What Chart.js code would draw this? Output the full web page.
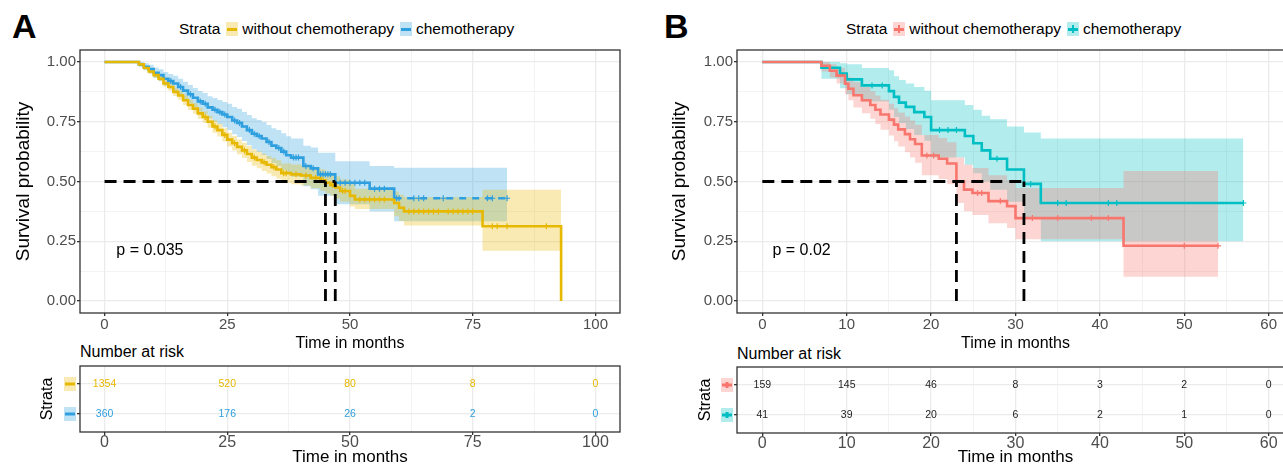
<!DOCTYPE html>
<html>
<head>
<meta charset="utf-8">
<script src="https://cdn.jsdelivr.net/npm/chart.js@4.4.1/dist/chart.umd.min.js"></script>
<style>
html, body { margin: 0; padding: 0; background: #fff; width: 1283px; height: 466px; overflow: hidden; }
body { position: relative; font-family: 'Liberation Sans', Arial, sans-serif; color: #000; }
canvas { position: absolute; display: block; }
.tag { position: absolute; font-weight: bold; font-size: 34px; line-height: 34px; }
.legend { position: absolute; top: 19px; height: 20px; display: flex; align-items: center; font-size: 15.5px; white-space: nowrap; }
.key { display: inline-block; position: relative; width: 12px; height: 14px; margin: 0 4px 0 6px; }
.key i { position: absolute; left: 1px; right: 1px; top: 5.5px; height: 3px; }
.key b { position: absolute; left: 5px; width: 2px; top: 3px; height: 8px; }
.risk-title { position: absolute; font-size: 16px; line-height: 18px; }
</style>
</head>
<body>
<div class="tag" style="left:12px; top:9px;">A</div>
<div class="tag" style="left:664px; top:9px;">B</div>

<div class="legend" style="left:179px;">Strata
  <span class="key" style="background:rgba(231,184,0,0.3)"><i style="background:#E7B800"></i></span>without chemotherapy
  <span class="key" style="background:rgba(46,159,223,0.3)"><i style="background:#2E9FDF"></i></span>chemotherapy
</div>
<div class="legend" style="left:846px;">Strata
  <span class="key" style="background:rgba(248,118,109,0.3)"><i style="background:#F8766D"></i><b style="background:#F8766D"></b></span>without chemotherapy
  <span class="key" style="background:rgba(0,191,196,0.3)"><i style="background:#00BFC4"></i><b style="background:#00BFC4"></b></span>chemotherapy
</div>

<div class="risk-title" style="left:80px; top:343px;">Number at risk</div>
<div class="risk-title" style="left:737px; top:345px;">Number at risk</div>

<canvas id="mainA" width="640" height="320" style="left:0; top:40px;"></canvas>
<canvas id="riskA" width="640" height="106" style="left:0; top:360px;"></canvas>
<canvas id="mainB" width="660" height="320" style="left:640px; top:40px;"></canvas>
<canvas id="riskB" width="660" height="106" style="left:640px; top:360px;"></canvas>

<script>
Chart.defaults.font.family = "'Liberation Sans', Arial, sans-serif";
Chart.defaults.animation = false;

// ---- panel A : without chemotherapy (yellow) vs chemotherapy (blue) ----
const tA0 = [0, 7, 8, 9, 10, 11, 12, 13, 14, 15, 16, 17, 18, 19, 20, 21, 22, 23, 24, 25, 26, 27, 28, 29, 30, 31, 32, 33, 34, 35, 36, 38, 40, 42, 44, 45, 46, 47, 48, 50, 51, 59, 60, 61, 77, 93];
const sA0 = [1, 0.99, 0.975, 0.96, 0.945, 0.93, 0.91, 0.895, 0.875, 0.86, 0.84, 0.82, 0.805, 0.785, 0.77, 0.75, 0.73, 0.715, 0.695, 0.675, 0.66, 0.645, 0.63, 0.615, 0.6, 0.59, 0.58, 0.57, 0.56, 0.55, 0.535, 0.53, 0.525, 0.515, 0.505, 0.495, 0.485, 0.475, 0.46, 0.44, 0.425, 0.41, 0.39, 0.375, 0.313, 0];
const loA0 = [1, 0.985, 0.968, 0.951, 0.934, 0.918, 0.896, 0.88, 0.858, 0.842, 0.82, 0.799, 0.783, 0.762, 0.746, 0.725, 0.704, 0.688, 0.667, 0.646, 0.63, 0.614, 0.598, 0.582, 0.566, 0.555, 0.544, 0.533, 0.522, 0.511, 0.495, 0.489, 0.483, 0.472, 0.46, 0.45, 0.44, 0.428, 0.415, 0.395, 0.385, 0.355, 0.335, 0.316, 0.21, 0.21];
const hiA0 = [1, 0.995, 0.982, 0.969, 0.956, 0.942, 0.924, 0.91, 0.892, 0.878, 0.86, 0.841, 0.827, 0.808, 0.794, 0.775, 0.756, 0.742, 0.723, 0.704, 0.69, 0.676, 0.662, 0.648, 0.634, 0.625, 0.616, 0.607, 0.598, 0.589, 0.575, 0.571, 0.567, 0.558, 0.55, 0.54, 0.53, 0.522, 0.508, 0.49, 0.47, 0.458, 0.445, 0.435, 0.465, 0.465];
const cA0 = [20.5, 22.5, 24.5, 26.5, 28.5, 30.5, 32.5, 34.5, 36.5, 37, 39, 41, 43, 44.5, 46.5, 48.5, 49, 52, 53, 54, 55, 56, 57, 62, 63, 64, 65, 66, 67, 68, 70, 71, 72, 73, 74, 75, 79, 80, 82, 90];

const tA1 = [0, 7, 8, 9, 10, 11, 12, 13, 14, 15, 16, 17, 18, 19, 20, 21, 22, 23, 24, 25, 26, 27, 28, 29, 30, 31, 32, 33, 34, 35, 36, 37, 38, 40.5, 42, 43.5, 47, 54, 59, 82];
const sA1 = [1, 0.99, 0.98, 0.97, 0.955, 0.945, 0.93, 0.92, 0.91, 0.895, 0.88, 0.865, 0.85, 0.835, 0.825, 0.81, 0.8, 0.79, 0.78, 0.77, 0.755, 0.745, 0.73, 0.715, 0.7, 0.69, 0.68, 0.665, 0.65, 0.64, 0.625, 0.61, 0.6, 0.565, 0.555, 0.53, 0.495, 0.47, 0.43, 0.43];
const loA1 = [1, 0.98, 0.965, 0.952, 0.933, 0.92, 0.902, 0.89, 0.878, 0.86, 0.843, 0.826, 0.809, 0.792, 0.78, 0.763, 0.751, 0.739, 0.727, 0.715, 0.698, 0.686, 0.669, 0.652, 0.635, 0.623, 0.611, 0.594, 0.577, 0.565, 0.548, 0.531, 0.52, 0.48, 0.468, 0.44, 0.405, 0.375, 0.334, 0.334];
const hiA1 = [1, 1, 0.995, 0.988, 0.977, 0.97, 0.958, 0.95, 0.942, 0.93, 0.917, 0.904, 0.891, 0.878, 0.87, 0.857, 0.849, 0.841, 0.833, 0.825, 0.812, 0.804, 0.791, 0.778, 0.765, 0.757, 0.749, 0.736, 0.723, 0.715, 0.702, 0.689, 0.68, 0.65, 0.642, 0.62, 0.585, 0.565, 0.558, 0.558];
const cA1 = [13.5, 15.5, 17.5, 19.5, 20.5, 22.5, 23.5, 24.5, 26.5, 27.5, 29.5, 30.5, 31.5, 33.5, 35.5, 36.5, 38.5, 39, 39.5, 41, 42.5, 44, 44.5, 45, 45.5, 46, 48, 49, 50, 51, 52, 53, 55, 56, 57, 59.5, 60, 63, 64, 65, 69, 78, 79, 82];

const medA = [45, 47];
const pvalA = 'p = 0.035';
const riskTimesA = [0, 25, 50, 75, 100];
const riskA0 = [1354, 520, 80, 8, 0];
const riskA1 = [360, 176, 26, 2, 0];
const xMajorA = [0, 25, 50, 75, 100];
const xMinorA = [12.5, 37.5, 62.5, 87.5];

// ---- panel B : without chemotherapy (red) vs chemotherapy (teal) ----
const tB0 = [0, 7, 8, 8.8, 9.8, 10.2, 10.8, 11.8, 12.8, 13.4, 14, 15, 15.6, 16.1, 16.9, 17.5, 18.1, 18.9, 20.9, 21.9, 23, 23.9, 24.9, 26.8, 29, 30, 42.8, 54];
const sB0 = [1, 0.984, 0.963, 0.943, 0.909, 0.888, 0.861, 0.84, 0.82, 0.8, 0.78, 0.759, 0.738, 0.718, 0.698, 0.677, 0.657, 0.609, 0.595, 0.575, 0.5, 0.466, 0.452, 0.418, 0.397, 0.347, 0.231, 0.231];
const loB0 = [1, 0.96, 0.935, 0.91, 0.865, 0.84, 0.81, 0.785, 0.762, 0.74, 0.716, 0.692, 0.668, 0.646, 0.622, 0.6, 0.578, 0.526, 0.51, 0.488, 0.41, 0.376, 0.36, 0.325, 0.305, 0.258, 0.102, 0.102];
const hiB0 = [1, 1, 0.99, 0.975, 0.95, 0.935, 0.915, 0.895, 0.877, 0.86, 0.842, 0.825, 0.806, 0.789, 0.772, 0.755, 0.737, 0.694, 0.682, 0.664, 0.6, 0.57, 0.556, 0.526, 0.505, 0.473, 0.544, 0.544];
const cB0 = [19.5, 20.3, 25.5, 26, 28.2, 31, 32, 35, 39, 41, 50, 54];

const tB1 = [0, 7, 9.2, 10, 11.8, 15, 15.6, 16.2, 17, 18, 19.2, 20, 24, 25, 26, 27, 29, 31, 33, 57];
const sB1 = [1, 0.976, 0.951, 0.927, 0.902, 0.878, 0.854, 0.83, 0.812, 0.79, 0.77, 0.715, 0.69, 0.66, 0.63, 0.595, 0.55, 0.49, 0.41, 0.41];
const loB1 = [1, 0.93, 0.89, 0.865, 0.835, 0.8, 0.77, 0.745, 0.72, 0.695, 0.67, 0.6, 0.57, 0.535, 0.5, 0.465, 0.415, 0.35, 0.25, 0.25];
const hiB1 = [1, 1, 0.995, 0.99, 0.975, 0.965, 0.94, 0.925, 0.91, 0.895, 0.88, 0.84, 0.82, 0.8, 0.775, 0.76, 0.73, 0.705, 0.68, 0.68];
const cB1 = [13, 14.2, 21, 22, 23, 27.8, 31.8, 35, 36, 41, 42, 57];

const medB = [23, 31];
const pvalB = 'p = 0.02';
const riskTimesB = [0, 10, 20, 30, 40, 50, 60];
const riskB0 = [159, 145, 46, 8, 3, 2, 0];
const riskB1 = [41, 39, 20, 6, 2, 1, 0];
const xMajorB = [0, 10, 20, 30, 40, 50, 60];
const xMinorB = [5, 15, 25, 35, 45, 55];

const yMajor = [0, 0.25, 0.5, 0.75, 1];
const yMinor = [0.125, 0.375, 0.625, 0.875];

// ---- helpers ----
function stepData(t, v) {
    return t.map((x, i) => ({x: x, y: v[i]}));
}

function survAt(t, s, when) {
    let v = s[0];
    for (let i = 0; i < t.length; i++) {
        if (t[i] <= when) v = s[i];
    }
    return v;
}

function curveSets(c) {
    const none = 'rgba(0,0,0,0)';
    return [
        { data: stepData(c.t, c.hi), stepped: 'before', borderWidth: 0, borderColor: none, pointRadius: 0, fill: false, order: 5 },
        { data: stepData(c.t, c.lo), stepped: 'before', borderWidth: 0, borderColor: none, pointRadius: 0, fill: '-1', backgroundColor: c.band, order: 5 },
        { data: stepData(c.t, c.s), stepped: 'before', borderColor: c.color, borderWidth: 2.6, pointRadius: 0, fill: false, order: 3,
          segment: c.dashFrom != null ? { borderDash: ctx => ctx.p0.parsed.x >= c.dashFrom ? [7, 6] : undefined } : undefined },
        { data: c.cens.map(x => ({x: x, y: survAt(c.t, c.s, x)})), showLine: false, pointStyle: 'cross',
          pointRadius: 3, pointBorderColor: c.color, pointBorderWidth: 1.2, order: 2 }
    ];
}

function medianSets(meds) {
    const style = { borderColor: '#000', borderWidth: 2.8, borderDash: [12, 7], pointRadius: 0, fill: false, order: 1 };
    const sets = [Object.assign({ data: [{x: 0, y: 0.5}, {x: Math.max(...meds), y: 0.5}] }, style)];
    meds.forEach(m => sets.push(Object.assign({ data: [{x: m, y: 0}, {x: m, y: 0.5}] }, style)));
    return sets;
}

function axis(o) {
    const majors = o.majors;
    const all = o.majors.concat(o.minors || []).sort((a, b) => a - b);
    return {
        type: 'linear', min: o.min, max: o.max, reverse: !!o.reverse,
        afterBuildTicks: s => { s.ticks = all.map(v => ({value: v})); },
        afterFit: s => {
            if (o.width != null) s.width = o.width;
            if (o.height != null) s.height = o.height;
        },
        border: { display: false },
        grid: {
            color: '#EBEBEB',
            lineWidth: c => majors.includes(c.tick.value) ? 1.3 : 0.6,
            tickColor: c => majors.includes(c.tick.value) ? '#333' : 'rgba(0,0,0,0)',
            tickLength: 3,
            tickWidth: 1.3
        },
        ticks: {
            autoSkip: false, maxRotation: 0, minRotation: 0, padding: o.pad || 0,
            color: '#4D4D4D', font: { size: o.tickSize },
            callback: v => majors.includes(v) ? (o.fmt ? o.fmt(v) : String(v)) : ''
        },
        title: { display: true, text: o.title, color: '#000', font: { size: o.titleSize }, padding: o.titlePad }
    };
}

const framePlugin = {
    id: 'frame',
    afterDraw(chart) {
        const {ctx, chartArea: a} = chart;
        ctx.save();
        ctx.strokeStyle = '#333';
        ctx.lineWidth = 1.3;
        ctx.strokeRect(a.left, a.top, a.right - a.left, a.bottom - a.top);
        ctx.restore();
    }
};

const pvalPlugin = {
    id: 'pval',
    afterDatasetsDraw(chart, args, opts) {
        const {ctx, scales} = chart;
        ctx.save();
        ctx.fillStyle = '#000';
        ctx.font = "16px 'Liberation Sans', Arial, sans-serif";
        ctx.textAlign = 'left';
        ctx.textBaseline = 'middle';
        ctx.fillText(opts.text, scales.x.getPixelForValue(opts.x), scales.y.getPixelForValue(opts.y));
        ctx.restore();
    }
};

function survChart(id, cfg) {
    new Chart(document.getElementById(id), {
        type: 'line',
        data: {
            datasets: [].concat(
                curveSets(cfg.curves[0]),
                curveSets(cfg.curves[1]),
                medianSets(cfg.medians)
            )
        },
        options: {
            responsive: false,
            devicePixelRatio: 1,
            events: [],
            layout: { padding: { top: 6, right: cfg.padRight, left: 0, bottom: 0 } },
            plugins: { legend: { display: false }, tooltip: { enabled: false },
                       pval: { text: cfg.pval, x: cfg.pvalX, y: 0.21 } },
            scales: {
                x: axis({ min: cfg.xMin, max: cfg.xMax, majors: cfg.xMajor, minors: cfg.xMinor, height: 47,
                          tickSize: 15, title: 'Time in months', titleSize: 16, titlePad: { top: 0, bottom: 7 } }),
                y: axis({ min: -0.05, max: 1.05, majors: yMajor, minors: yMinor, width: cfg.yWidth, pad: 1,
                          tickSize: 15, fmt: v => v.toFixed(2), title: 'Survival probability', titleSize: 19,
                          titlePad: { top: cfg.yTitlePad, bottom: 0 } })
            }
        },
        plugins: [framePlugin, pvalPlugin]
    });
}

const riskPlugin = {
    id: 'risk',
    afterDatasetsDraw(chart) {
        const {ctx, chartArea: a} = chart;
        ctx.save();
        chart.data.datasets.forEach((ds, di) => {
            const meta = chart.getDatasetMeta(di);
            ctx.fillStyle = ds.textColor;
            ctx.font = "10.5px 'Liberation Sans', Arial, sans-serif";
            ctx.textAlign = 'center';
            ctx.textBaseline = 'middle';
            meta.data.forEach((pt, i) => ctx.fillText(String(ds.counts[i]), pt.x, pt.y));
            // strata key on the y axis
            const y = chart.scales.y.getPixelForValue(ds.data[0].y);
            const kx = a.left - 16;
            ctx.fillStyle = ds.band;
            ctx.fillRect(kx, y - 7, 12, 14);
            ctx.strokeStyle = ds.color;
            ctx.lineWidth = 3;
            ctx.beginPath();
            ctx.moveTo(kx + 1, y);
            ctx.lineTo(kx + 11, y);
            if (ds.cross) {
                ctx.moveTo(kx + 6, y - 3);
                ctx.lineTo(kx + 6, y + 3);
            }
            ctx.stroke();
        });
        ctx.restore();
    }
};

function riskChart(id, cfg) {
    new Chart(document.getElementById(id), {
        type: 'line',
        data: {
            datasets: cfg.rows.map((r, i) => ({
                data: cfg.times.map(t => ({x: t, y: i + 1})),
                counts: r.counts, textColor: r.textColor, color: r.color, band: r.band, cross: cfg.cross,
                showLine: false, pointRadius: 0
            }))
        },
        options: {
            responsive: false,
            devicePixelRatio: 1,
            events: [],
            layout: { padding: { top: cfg.padTop, right: cfg.padRight, left: 0, bottom: 0 } },
            plugins: { legend: { display: false }, tooltip: { enabled: false } },
            scales: {
                x: axis({ min: cfg.xMin, max: cfg.xMax, majors: cfg.xMajor, minors: cfg.xMinor, height: cfg.xHeight,
                          tickSize: 16, pad: -2, title: 'Time in months', titleSize: 17, titlePad: { top: 0, bottom: -2 } }),
                y: axis({ min: 0.4, max: 2.6, reverse: true, majors: [1, 2], minors: [], width: cfg.yWidth,
                          tickSize: 10, fmt: v => '', title: 'Strata', titleSize: 16,
                          titlePad: { top: cfg.yTitlePad, bottom: 0 } })
            }
        },
        plugins: [framePlugin, riskPlugin]
    });
}

// ---- build ----
survChart('mainA', {
    curves: [
        { t: tA0, s: sA0, lo: loA0, hi: hiA0, cens: cA0, color: '#E7B800', band: 'rgba(231,184,0,0.3)' },
        { t: tA1, s: sA1, lo: loA1, hi: hiA1, cens: cA1, color: '#2E9FDF', band: 'rgba(46,159,223,0.3)', dashFrom: 59 }
    ],
    medians: medA, pval: pvalA, pvalX: 2.4,
    xMin: -5, xMax: 105, xMajor: xMajorA, xMinor: xMinorA,
    yWidth: 80, yTitlePad: 12, padRight: 20
});

survChart('mainB', {
    curves: [
        { t: tB0, s: sB0, lo: loB0, hi: hiB0, cens: cB0, color: '#F8766D', band: 'rgba(248,118,109,0.3)' },
        { t: tB1, s: sB1, lo: loB1, hi: hiB1, cens: cB1, color: '#00BFC4', band: 'rgba(0,191,196,0.3)' }
    ],
    medians: medB, pval: pvalB, pvalX: 1.2,
    xMin: -3, xMax: 63, xMajor: xMajorB, xMinor: xMinorB,
    yWidth: 97, yTitlePad: 28, padRight: 6
});

riskChart('riskA', {
    times: riskTimesA,
    rows: [
        { counts: riskA0, textColor: '#E7B800', color: '#E7B800', band: 'rgba(231,184,0,0.3)' },
        { counts: riskA1, textColor: '#2E9FDF', color: '#2E9FDF', band: 'rgba(46,159,223,0.3)' }
    ],
    cross: false,
    xMin: -5, xMax: 105, xMajor: xMajorA, xMinor: xMinorA,
    padTop: 5, padRight: 20, xHeight: 34, yWidth: 80, yTitlePad: 38
});

riskChart('riskB', {
    times: riskTimesB,
    rows: [
        { counts: riskB0, textColor: '#222', color: '#F8766D', band: 'rgba(248,118,109,0.3)' },
        { counts: riskB1, textColor: '#222', color: '#00BFC4', band: 'rgba(0,191,196,0.3)' }
    ],
    cross: true,
    xMin: -3, xMax: 63, xMajor: xMajorB, xMinor: xMinorB,
    padTop: 7, padRight: 6, xHeight: 33, yWidth: 97, yTitlePad: 56
});
</script>
</body>
</html>
